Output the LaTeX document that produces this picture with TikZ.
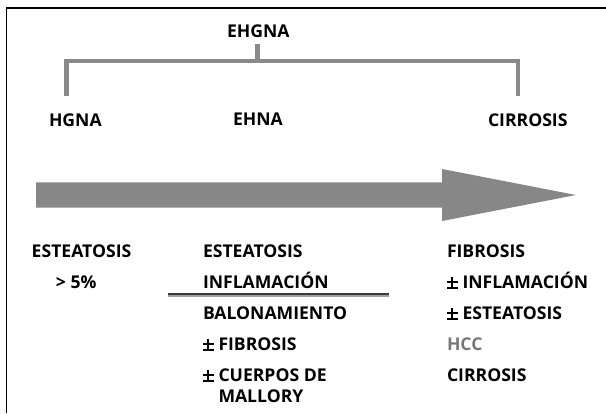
\documentclass[tikz,border=0pt]{standalone}
\usepackage{fontspec}
\setmainfont{Open Sans}
\definecolor{bracketgray}{HTML}{8A8A8A}
\definecolor{arrowgray}{HTML}{878787}
\definecolor{hccgray}{HTML}{777777}
\definecolor{ruledark}{HTML}{3A3A3A}
\definecolor{rulelight}{HTML}{A0A0A0}
\newcommand\pmsign{\makebox[10.5pt][l]{%
  \rlap{\rule[-0.9pt]{10.5pt}{1.7pt}}%
  \rlap{\rule[5.4pt]{10.5pt}{1.7pt}}%
  \hspace*{4.4pt}\rule[1.2pt]{1.7pt}{9.9pt}}\hspace{5pt}}
\tikzset{
  lbl/.style={anchor=base west, inner sep=0pt, outer sep=0pt, font=\fontsize{17.6}{20}\bfseries},
}
\begin{document}
\begin{tikzpicture}[x=1pt,y=-1pt]
\useasboundingbox (0,0) rectangle (606,413);
% frame
\draw[line width=1.6pt, black] (6.5,413) -- (6.5,8) -- (606,8);
% bracket
\draw[bracketgray, line width=4.2pt] (66.5,95.7) -- (66.5,61) -- (518,61) -- (518,95.7);
\draw[bracketgray, line width=4.2pt] (257.5,44) -- (257.5,61);
% big arrow
\fill[arrowgray] (36,182.3) -- (442,182.3) -- (442,169) -- (576,195) -- (442,221) -- (442,207.7) -- (36,207.7) -- cycle;
% top labels
\node[lbl] (ehgna) at (227,37) {EHGNA};
\node[lbl] (hgna) at (49,126.5) {HGNA};
\node[lbl] (ehna) at (233,125.5) {EHNA};
\node[lbl] (cirr) at (488,126.5) {CIRROSIS};
% column 1
\node[lbl] (c1a) at (31.7,257.5) {ESTEATOSIS};
\node[lbl] (c1b) at (56,288) {> 5\%};
% column 2
\node[lbl] (c2a) at (203,257.5) {ESTEATOSIS};
\node[lbl] (c2b) at (203,288) {INFLAMACIÓN};
\node[lbl] (c2c) at (203,319) {BALONAMIENTO};
\node[lbl] (c2d) at (203,350) {\pmsign FIBROSIS};
\node[lbl] (c2e) at (203,381) {\pmsign CUERPOS DE};
\node[lbl] (c2f) at (218.5,402) {MALLORY};
% rule under INFLAMACION
\draw[ruledark, line width=1.6pt] (168,294) -- (389,294);
\draw[rulelight, line width=1.4pt] (168,295.8) -- (389,295.8);
% column 3
\node[lbl] (c3a) at (447,257.5) {FIBROSIS};
\node[lbl] (c3b) at (447,288) {\pmsign INFLAMACIÓN};
\node[lbl] (c3c) at (447,319) {\pmsign ESTEATOSIS};
\node[lbl, text=hccgray] (c3d) at (447,350) {HCC};
\node[lbl] (c3e) at (447,381) {CIRROSIS};
\end{tikzpicture}
\end{document}
